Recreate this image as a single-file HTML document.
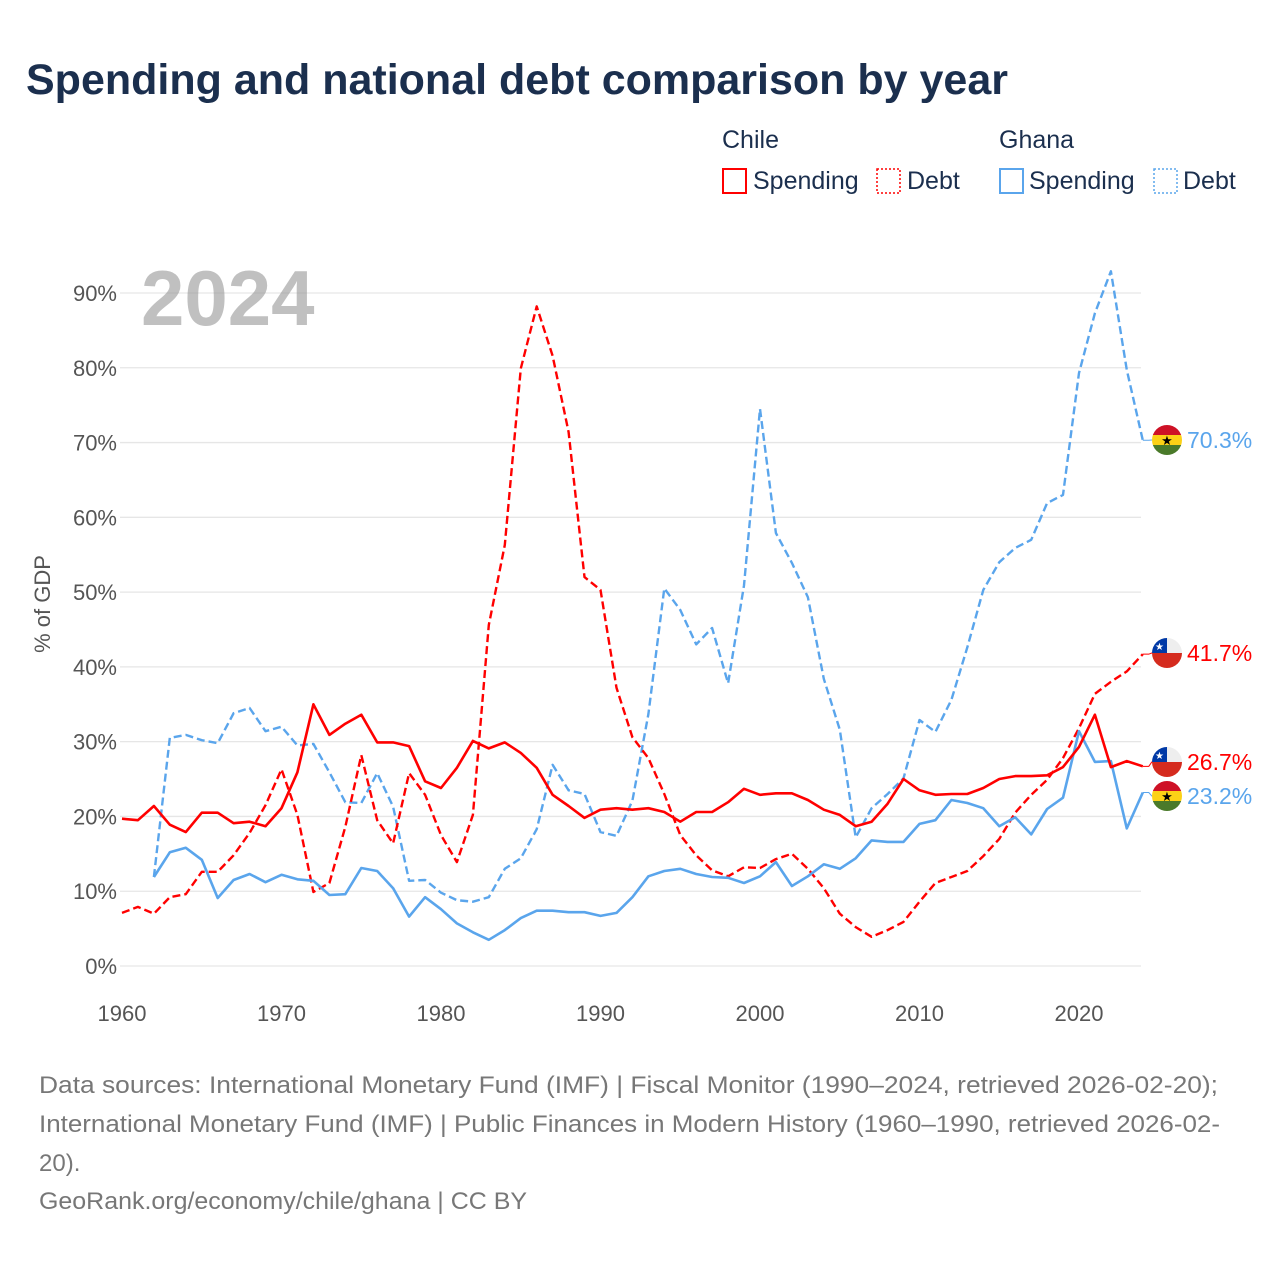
<!DOCTYPE html>
<html><head><meta charset="utf-8">
<style>
html,body{margin:0;padding:0;background:#fff;}
body{width:1280px;height:1280px;overflow:hidden;font-family:"Liberation Sans",sans-serif;}
</style></head>
<body>
<svg id="chart" width="1280" height="1280" xmlns="http://www.w3.org/2000/svg" font-family="Liberation Sans, sans-serif">
  <text x="26" y="94" font-size="43" font-weight="bold" fill="#1b2f4e">Spending and national debt comparison by year</text>
  <g font-size="25" fill="#1b2f4e">
    <text x="722" y="148">Chile</text>
    <text x="999" y="148">Ghana</text>
    <g><rect x="723" y="169" width="23" height="24" fill="none" stroke="#f00" stroke-width="2"/><text x="753" y="189">Spending</text></g>
    <g><rect x="877" y="169" width="23" height="24" fill="none" stroke="#f00" stroke-width="1.5" stroke-dasharray="2,2"/><text x="907" y="189">Debt</text></g>
    <g><rect x="1000" y="169" width="23" height="24" fill="none" stroke="#5aa5ec" stroke-width="2"/><text x="1029" y="189">Spending</text></g>
    <g><rect x="1154" y="169" width="23" height="24" fill="none" stroke="#5aa5ec" stroke-width="1.5" stroke-dasharray="2,2"/><text x="1183" y="189">Debt</text></g>
  </g>
  <g id="grid"></g>
  <text x="141" y="325" font-size="78" font-weight="bold" fill="#9a9a9a" fill-opacity="0.62">2024</text>
  <g id="yticks" font-size="22" fill="#555" text-anchor="end"></g>
  <g id="xticks" font-size="22" fill="#555" text-anchor="middle"></g>
  <text transform="translate(50,604) rotate(-90)" font-size="22" fill="#555" text-anchor="middle">% of GDP</text>
  <g id="series"></g>
  <g id="ends"></g>
  <g font-size="24" fill="#777">
    <text x="39" y="1093" textLength="1179" lengthAdjust="spacingAndGlyphs">Data sources: International Monetary Fund (IMF) | Fiscal Monitor (1990–2024, retrieved 2026-02-20);</text>
    <text x="39" y="1132" textLength="1181" lengthAdjust="spacingAndGlyphs">International Monetary Fund (IMF) | Public Finances in Modern History (1960–1990, retrieved 2026-02-</text>
    <text x="39" y="1171">20).</text>
    <text x="39" y="1209" textLength="488" lengthAdjust="spacingAndGlyphs">GeoRank.org/economy/chile/ghana | CC BY</text>
  </g>
</svg>
<script>
const chileSpending = [19.7,19.5,21.4,18.9,17.9,20.5,20.5,19.1,19.3,18.7,21.1,25.9,35.0,30.9,32.4,33.6,29.9,29.9,29.4,24.7,23.8,26.5,30.1,29.1,29.9,28.5,26.5,22.9,21.4,19.8,20.9,21.1,20.9,21.1,20.6,19.3,20.6,20.6,21.9,23.7,22.9,23.1,23.1,22.2,20.9,20.2,18.7,19.3,21.7,25.0,23.5,22.9,23.0,23.0,23.8,25.0,25.4,25.4,25.5,26.6,29.3,33.6,26.6,27.4,26.7];
const chileDebt = [7.1,7.9,7.0,9.2,9.6,12.6,12.6,14.8,17.8,21.5,26.3,20.2,9.9,11.1,18.6,28.2,19.5,16.4,25.8,22.9,17.5,13.9,20.2,45.6,56.3,79.9,88.2,81.6,71.4,52.0,50.3,37.2,30.6,27.8,23.0,17.5,14.8,12.8,12.0,13.2,13.1,14.3,15.0,13.0,10.4,7.0,5.2,3.9,4.8,5.9,8.6,11.1,11.9,12.7,14.7,17.0,20.5,22.9,24.9,27.8,31.8,36.4,38.0,39.4,41.7];
const ghanaSpending = [null,null,11.9,15.2,15.8,14.2,9.1,11.5,12.3,11.2,12.2,11.6,11.4,9.5,9.6,13.1,12.7,10.4,6.6,9.2,7.6,5.7,4.5,3.5,4.8,6.4,7.4,7.4,7.2,7.2,6.7,7.1,9.2,12.0,12.7,13.0,12.3,11.9,11.8,11.1,12.0,13.9,10.7,12.0,13.6,13.0,14.4,16.8,16.6,16.6,19.0,19.5,22.2,21.8,21.1,18.7,19.9,17.6,21.0,22.5,31.4,27.3,27.4,18.4,23.2];
const ghanaDebt = [null,null,11.9,30.5,30.9,30.2,29.8,33.8,34.5,31.4,32.0,29.5,29.7,25.9,21.9,21.8,25.8,21.3,11.4,11.5,9.8,8.8,8.6,9.2,13.0,14.4,18.3,26.9,23.5,23.0,17.9,17.4,22.1,33.7,50.5,47.6,43.0,45.2,37.8,50.9,74.5,57.9,53.9,49.3,38.4,31.6,17.2,21.1,23.0,25.1,32.9,31.3,35.6,42.6,50.3,54.0,55.9,57.0,61.9,63.0,79.3,87.3,92.9,79.7,70.3];
const yTicks = [0,10,20,30,40,50,60,70,80,90];
const xTicks = [1960,1970,1980,1990,2000,2010,2020];
const startYear = 1960;

const NS = "http://www.w3.org/2000/svg";
const X = yr => 122 + (yr - 1960) * 15.95;
const Y = v => 966 - v * 7.478;
function mk(tag, attrs, parent){const e=document.createElementNS(NS,tag);for(const k in attrs)e.setAttribute(k,attrs[k]);parent.appendChild(e);return e;}

const grid=document.getElementById('grid'), yt=document.getElementById('yticks'), xt=document.getElementById('xticks');
yTicks.forEach(v=>{
  const l=mk('line',{x1:120,x2:1141,y1:Y(v),y2:Y(v),stroke:'#e6e6e6','stroke-width':1.3},grid);
  
  
  const t=mk('text',{x:117,y:Y(v)+8},yt); t.textContent=v+'%';
  
  
});
xTicks.forEach(v=>{
  const t=mk('text',{x:X(v),y:1021},xt); t.textContent=v;
  
  
});

const ser=document.getElementById('series');
function line(arr,color,dash,w,name){
  let d='';let started=false;
  arr.forEach((v,i)=>{ if(v==null)return; d+=(started?'L':'M')+X(startYear+i).toFixed(1)+','+Y(v).toFixed(1); started=true;});
  const p=mk('path',{d:d,fill:'none',stroke:color,'stroke-width':w,'stroke-linejoin':'round'},ser);
  if(dash)p.setAttribute('stroke-dasharray',dash);
  
  
}
line(ghanaDebt,'#5aa5ec','8,4',2.4,'ghana-debt-line');
line(chileDebt,'#ff0000','8,4',2.4,'chile-debt-line');
line(ghanaSpending,'#5aa5ec',null,2.6,'ghana-spending-line');
line(chileSpending,'#ff0000',null,2.6,'chile-spending-line');

const ends=document.getElementById('ends');
function flag(cx,cy,country,g){
  const id='c'+Math.round(cy);
  const cp=mk('clipPath',{id:id},g); mk('circle',{cx:cx,cy:cy,r:15},cp);
  const f=mk('g',{'clip-path':'url(#'+id+')'},g);
  if(country==='ghana'){
    mk('rect',{x:cx-15,y:cy-15,width:30,height:10,fill:'#ce1126'},f);
    mk('rect',{x:cx-15,y:cy-5,width:30,height:10,fill:'#fcd116'},f);
    mk('rect',{x:cx-15,y:cy+5,width:30,height:10,fill:'#4a7a2a'},f);
    const s=mk('text',{x:cx,y:cy+5,'font-size':13,'text-anchor':'middle',fill:'#000'},f); s.textContent='★';
  } else {
    mk('rect',{x:cx-15,y:cy-15,width:30,height:15,fill:'#eeeeee'},f);
    mk('rect',{x:cx-15,y:cy-15,width:15,height:15,fill:'#0039a6'},f);
    mk('rect',{x:cx-15,y:cy,width:30,height:15,fill:'#d52b1e'},f);
    const s=mk('text',{x:cx-7.5,y:cy-3,'font-size':10,'text-anchor':'middle',fill:'#fff'},f); s.textContent='★';
  }
}
function endLabel(arr,country,color,labelY,name){
  const v=arr[arr.length-1], x=X(startYear+arr.length-1), y=Y(v);
  const g=mk('g',{},ends);
  
  
  mk('path',{d:`M${x},${y}L${x+6},${y}L${x+9},${labelY}L1152,${labelY}`,fill:'none',stroke:color,'stroke-width':1},g);
  flag(1167,labelY,country,g);
  const t=mk('text',{x:1187,y:labelY+8,'font-size':23,fill:color},g); t.textContent=v.toFixed(1)+'%';
}
endLabel(ghanaDebt,'ghana','#5aa5ec',440,'ghana-debt-end-label');
endLabel(chileDebt,'chile','#ff0000',653,'chile-debt-end-label');
endLabel(chileSpending,'chile','#ff0000',762,'chile-spending-end-label');
endLabel(ghanaSpending,'ghana','#5aa5ec',796,'ghana-spending-end-label');
</script>
</body></html>
